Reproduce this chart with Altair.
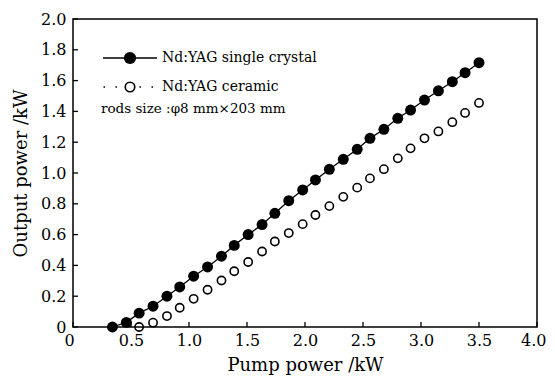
import altair as alt
import pandas as pd

# Pump power (kW) sample positions
pump = [0.34, 0.46, 0.57, 0.69, 0.81, 0.92, 1.04, 1.16, 1.28, 1.39, 1.51, 1.63,
        1.74, 1.86, 1.98, 2.09, 2.21, 2.33, 2.45, 2.56, 2.68, 2.80, 2.91, 3.03,
        3.15, 3.27, 3.38, 3.50]
# Nd:YAG single crystal output power (kW)
single = [0.00, 0.03, 0.09, 0.135, 0.20, 0.26, 0.33, 0.39, 0.46, 0.53, 0.60, 0.665,
          0.738, 0.82, 0.89, 0.955, 1.024, 1.089, 1.154, 1.225, 1.284, 1.355, 1.409,
          1.474, 1.534, 1.593, 1.651, 1.716]
# Nd:YAG ceramic (starts at the third pump point)
ceramic_pump = [0.57, 0.69, 0.81, 0.92, 1.04, 1.16, 1.28, 1.39, 1.51, 1.63,
                1.74, 1.86, 1.98, 2.09, 2.21, 2.33, 2.45, 2.56, 2.68, 2.80, 2.91, 3.03,
                3.15, 3.27, 3.38, 3.50]
ceramic = [0.00, 0.028, 0.071, 0.125, 0.183, 0.242, 0.302, 0.362, 0.422, 0.49, 0.555,
           0.61, 0.668, 0.727, 0.785, 0.845, 0.905, 0.965, 1.025, 1.095, 1.16, 1.225,
           1.27, 1.33, 1.39, 1.455]

x_ticks = [0, 0.5, 1.0, 1.5, 2.0, 2.5, 3.0, 3.5, 4.0]
y_ticks = [0, 0.2, 0.4, 0.6, 0.8, 1.0, 1.2, 1.4, 1.6, 1.8, 2.0]
legend_labels = ["Nd:YAG single crystal", "Nd:YAG ceramic"]
note = "rods size :φ8 mm×203 mm"

FONT = "DejaVu Serif"

df_s = pd.DataFrame({"pump": pump, "out": single})
df_c = pd.DataFrame({"pump": ceramic_pump, "out": ceramic})
df_xt = pd.DataFrame({"pump": x_ticks})
df_yt = pd.DataFrame({"out": y_ticks})

xscale = alt.Scale(domain=[0, 4], nice=False, zero=False)
yscale = alt.Scale(domain=[0, 2], nice=False, zero=False)

lab_expr = "datum.value == 0 ? '0' : format(datum.value, '.1f')"

xaxis = alt.Axis(values=x_ticks, labelExpr=lab_expr, tickSize=0, domain=False,
                 grid=False, labelFont=FONT, labelFontSize=16, labelColor="black",
                 labelPadding=5, labelOverlap=False, labelFlush=True,
                 labelFlushOffset=9,
                 title="Pump power /kW", titleFont=FONT,
                 titleFontSize=18, titleFontWeight="normal", titleColor="black",
                 titlePadding=8)
yaxis = alt.Axis(values=y_ticks, labelExpr=lab_expr, tickSize=0, domain=False,
                 grid=False, labelFont=FONT, labelFontSize=16, labelColor="black",
                 labelPadding=7, labelOverlap=False, labelFlush=False,
                 title="Output power /kW", titleFont=FONT,
                 titleFontSize=18, titleFontWeight="normal", titleColor="black",
                 titlePadding=10)

def X(f):
    return alt.X(f, scale=xscale, axis=xaxis, title="Pump power /kW")

def Y(f):
    return alt.Y(f, scale=yscale, axis=yaxis, title="Output power /kW")

base_s = alt.Chart(df_s)
line_s = base_s.mark_line(color="black", strokeWidth=1.3).encode(x=X("pump:Q"), y=Y("out:Q"))
pts_s = base_s.mark_point(filled=True, color="black", size=120, opacity=1,
                          shape="circle").encode(x=X("pump:Q"), y=Y("out:Q"))
pts_c = alt.Chart(df_c).mark_point(filled=False, color="black", size=68, strokeWidth=1.6,
                                   opacity=1, shape="circle").encode(
    x=X("pump:Q"), y=Y("out:Q"))

# inward tick marks
xt = alt.Chart(df_xt).mark_rule(color="black", strokeWidth=1.3).encode(
    x=X("pump:Q"),
    y=alt.value(308),
    y2=alt.value(303),
)
yt = alt.Chart(df_yt).mark_rule(color="black", strokeWidth=1.3).encode(
    y=Y("out:Q"),
    x=alt.value(0),
    x2=alt.value(5),
)

# legend (inside plot)
leg_line1 = alt.Chart().mark_rule(color="black", strokeWidth=1.3).encode(
    x=alt.value(30), x2=alt.value(84), y=alt.value(39))
leg_pt1 = alt.Chart().mark_point(filled=True, color="black", size=150, opacity=1,
                                 shape="circle").encode(x=alt.value(57), y=alt.value(39))
leg_line2 = alt.Chart().mark_rule(color="black", strokeWidth=1.6, strokeDash=[1.5, 10.5]).encode(
    x=alt.value(30.5), x2=alt.value(86), y=alt.value(68))
leg_pt2_bg = alt.Chart().mark_point(filled=True, color="white", size=110, opacity=1,
                                    shape="circle").encode(x=alt.value(57), y=alt.value(68))
leg_pt2 = alt.Chart().mark_point(filled=False, color="black", size=90, strokeWidth=1.6,
                                 opacity=1, shape="circle").encode(x=alt.value(57), y=alt.value(68))
leg_t1 = alt.Chart(pd.DataFrame({"t": [legend_labels[0]]})).mark_text(
    font=FONT, fontSize=14, color="black", align="left", baseline="middle").encode(
    x=alt.value(89), y=alt.value(39), text="t:N")
leg_t2 = alt.Chart(pd.DataFrame({"t": [legend_labels[1]]})).mark_text(
    font=FONT, fontSize=14, color="black", align="left", baseline="middle").encode(
    x=alt.value(89), y=alt.value(68), text="t:N")
leg_t3 = alt.Chart(pd.DataFrame({"t": [note]})).mark_text(
    font=FONT, fontSize=13.5, color="black", align="left", baseline="middle").encode(
    x=alt.value(28), y=alt.value(89.5), text="t:N")

chart = alt.layer(
    line_s, pts_s, pts_c, xt, yt,
    leg_line1, leg_pt1, leg_line2, leg_pt2_bg, leg_pt2, leg_t1, leg_t2, leg_t3,
).properties(
    width=464, height=308,
    autosize=alt.AutoSizeParams(type="none"),
    padding={"left": 65, "top": 11, "right": 10, "bottom": 49},
    background="white",
).configure_view(stroke="black", strokeWidth=1.5)

chart.save("out.html", embed_options={"renderer": "svg", "actions": False})
